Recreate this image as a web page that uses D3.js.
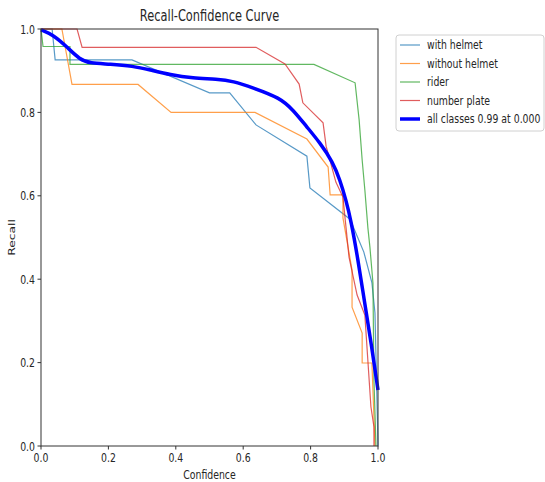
<!DOCTYPE html>
<meta charset="utf-8">
<script src="https://d3js.org/d3.v7.min.js"></script>
<style>
  body { margin: 0; background: #fff; }
  text { font-family: "DejaVu Sans", sans-serif; fill: #262626; }
</style>
<body>
<svg width="545" height="482"></svg>
<script>
    // curves: [confidence, recall]
    let withHelmet = [[0,1],[0.033,1],[0.042,0.926],[0.27,0.926],[0.5,0.847],[0.56,0.847],[0.638,0.77],[0.789,0.695],[0.798,0.619],[0.917,0.544],[0.958,0.465],[0.982,0.391],[0.991,0.319],[0.997,0.11],[1,0]]
    let withoutHelmet = [[0,1],[0.062,1],[0.092,0.867],[0.288,0.867],[0.386,0.8],[0.635,0.8],[0.789,0.736],[0.852,0.669],[0.858,0.602],[0.896,0.602],[0.896,0.547],[0.923,0.422],[0.923,0.333],[0.953,0.271],[0.953,0.199],[0.982,0.199],[0.991,0]]
    let rider = [[0,1],[0.006,0.958],[0.086,0.958],[0.086,0.915],[0.81,0.915],[0.932,0.871],[0.944,0.782],[0.953,0.686],[0.961,0.614],[0.97,0.523],[0.976,0.477],[0.985,0.391],[0.988,0.158],[0.994,0]]
    let numberPlate = [[0,1],[0.107,1],[0.122,0.956],[0.638,0.956],[0.724,0.916],[0.766,0.868],[0.777,0.823],[0.837,0.775],[0.846,0.719],[0.875,0.633],[0.896,0.597],[0.905,0.525],[0.914,0.453],[0.938,0.362],[0.961,0.314],[0.979,0.094],[0.988,0.046],[0.988,0]]
    let allClasses = [[0,0.998],[0.036,0.986],[0.077,0.957],[0.116,0.926],[0.145,0.918],[0.205,0.916],[0.273,0.911],[0.323,0.902],[0.383,0.89],[0.451,0.882],[0.522,0.88],[0.57,0.875],[0.629,0.859],[0.709,0.835],[0.748,0.806],[0.789,0.765],[0.828,0.727],[0.866,0.681],[0.887,0.638],[0.905,0.59],[0.92,0.54],[0.94,0.45],[0.96,0.345],[0.98,0.245],[1,0.134]]

    let classNames = ['with helmet','without helmet','rider','number plate']
    let classColors = ['#1f77b4','#ff7f0e','#2ca02c','#d62728']
    let allLabel = 'all classes 0.99 at 0.000'
    let ticks = [0,0.2,0.4,0.6,0.8,1.0]

    let sx = 0.76, fs = 12.3
    let svg = d3.select('svg')
    let x = d3.scaleLinear().domain([0,1]).range([41,378]),
        y = d3.scaleLinear().domain([0,1]).range([446,29])

    let txt = (g, s, tx, ty, anchor, size) => g.append('text')
        .attr('transform', `translate(${tx},${ty}) scale(${sx},1)`)
        .attr('text-anchor', anchor)
        .style('font-size', (size||fs)+'px')
        .text(s)

    let line = d3.line().x(d=>x(d[0])).y(d=>y(d[1]))
    let smooth = d3.line().x(d=>x(d[0])).y(d=>y(d[1])).curve(d3.curveBasis)

    let plot = svg.append('g')
    ;[withHelmet, withoutHelmet, rider, numberPlate].forEach((s,i)=>{
        plot.append('path').attr('d', line(s)).attr('fill','none')
            .attr('stroke', classColors[i]).attr('stroke-width',1.2).attr('opacity',0.75)
    })
    plot.append('path').attr('d', smooth(allClasses)).attr('fill','none')
        .attr('stroke','#0000ff').attr('stroke-width',3.5)

    // frame
    svg.append('rect').attr('x',x(0)).attr('y',y(1)).attr('width',x(1)-x(0)).attr('height',y(0)-y(1))
        .attr('fill','none').attr('stroke','#333').attr('stroke-width',1)

    // ticks
    let ax = svg.append('g')
    ticks.forEach(t=>{
        ax.append('line').attr('x1',x(t)).attr('x2',x(t)).attr('y1',y(0)).attr('y2',y(0)+3.5).attr('stroke','#333')
        txt(ax, t.toFixed(1), x(t), 462, 'middle')
        ax.append('line').attr('x1',x(0)-3.5).attr('x2',x(0)).attr('y1',y(t)).attr('y2',y(t)).attr('stroke','#333')
        txt(ax, t.toFixed(1), 35, y(t)+4.5, 'end')
    })

    txt(svg, 'Confidence', (x(0)+x(1))/2, 479, 'middle')
    svg.append('text')
        .attr('transform', `translate(15,${(y(0)+y(1))/2}) rotate(-90) scale(1,${sx})`)
        .attr('text-anchor','middle').style('font-size', fs+'px').text('Recall')
    txt(svg, 'Recall-Confidence Curve', (x(0)+x(1))/2, 21, 'middle', 15)

    // legend
    let lg = svg.append('g')
    lg.append('rect').attr('x',396).attr('y',35).attr('width',148).attr('height',96).attr('rx',3)
        .attr('fill','#fff').attr('stroke','#d0d0d0')
    let rows = classNames.concat([allLabel])
    rows.forEach((r,i)=>{
        let cy = 45 + i*18.5
        lg.append('line').attr('x1',400).attr('x2',420).attr('y1',cy).attr('y2',cy)
            .attr('stroke', i<4 ? classColors[i] : '#0000ff')
            .attr('stroke-width', i<4 ? 1.2 : 3.5).attr('opacity', i<4 ? 0.75 : 1)
        txt(lg, r, 427, cy+4.3, 'start')
    })
</script>
</body>
